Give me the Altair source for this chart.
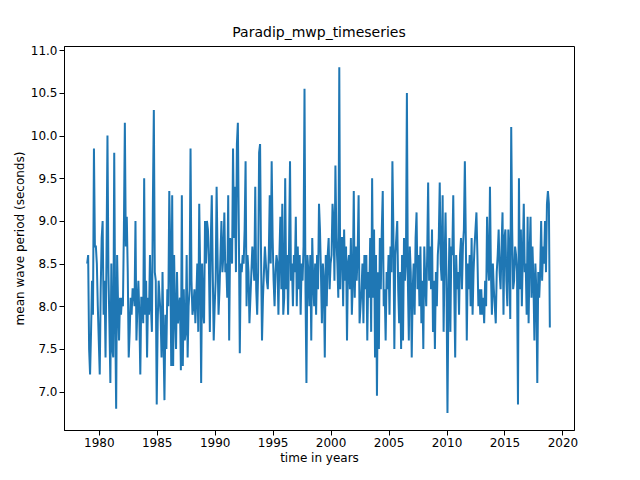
import altair as alt
import pandas as pd

y1979 = [8.5,8.6,7.5,7.2,7.7,8.3,7.9,9.85,8.7,8.7,8.5,8.0]
y1980 = [7.6,7.2,8.2,8.8,9.0,7.9,8.3,7.4,8.6,10.0,8.4,7.8]
y1981 = [7.1,8.5,7.5,7.4,9.8,7.9,6.8,8.6,8.0,7.6,8.1,7.9]
y1982 = [8.1,8.0,8.9,10.15,8.7,9.05,8.4,7.4,7.7,8.1,7.9,8.2]
y1983 = [8.2,8.0,9.0,7.6,8.0,8.3,7.9,7.2,8.1,8.1,7.8,9.5]
y1984 = [7.9,8.3,7.4,8.1,7.9,8.6,8.0,7.7,9.2,10.3,8.4,8.3]
y1985 = [6.85,7.8,8.3,8.1,7.9,7.4,8.4,7.6,6.9,7.9,7.5,8.2]
y1986 = [8.0,9.35,8.7,7.3,9.3,7.3,8.6,7.9,7.5,8.4,7.8,8.0]
y1987 = [8.1,7.25,9.3,7.3,8.2,7.6,7.7,8.6,7.4,8.0,8.2,9.85]
y1988 = [8.3,7.9,8.0,8.2,7.8,8.1,8.5,7.7,9.2,8.4,7.1,8.5]
y1989 = [8.0,7.8,9.0,8.5,9.0,8.9,8.5,7.7,8.8,9.3,8.4,7.6]
y1990 = [8.0,8.3,9.4,8.6,7.9,8.2,8.6,9.0,8.4,8.6,9.1,8.4]
y1991 = [8.5,8.1,9.3,7.6,8.8,8.7,8.5,9.85,8.8,9.4,8.4,9.9]
y1992 = [10.15,8.9,7.45,8.5,8.4,8.6,8.5,8.9,9.7,8.0,8.6,8.4]
y1993 = [7.8,8.1,8.4,8.7,8.5,8.3,9.4,8.2,7.9,8.4,9.8,9.9]
y1994 = [8.6,7.6,8.1,8.4,8.7,8.5,8.3,8.2,8.6,9.3,8.5,9.7]
y1995 = [8.8,8.3,8.0,8.4,8.6,8.5,7.9,8.6,9.05,8.2,9.2,7.9]
y1996 = [8.1,9.5,8.2,8.6,7.9,8.7,9.7,8.3,8.5,8.0,8.6,8.4]
y1997 = [9.05,8.0,8.7,8.2,8.6,7.9,8.5,8.3,8.7,10.55,8.2,7.1]
y1998 = [8.6,8.4,8.0,8.6,7.6,8.8,8.3,8.0,8.5,7.9,8.6,8.2]
y1999 = [9.2,8.9,8.4,7.8,8.5,8.3,7.4,8.6,8.0,8.6,8.8,8.2]
y2000 = [8.5,8.6,9.2,9.0,8.3,9.65,8.8,8.5,8.1,10.8,8.2,8.8]
y2001 = [8.8,8.0,8.9,8.3,8.7,7.6,8.5,8.6,8.2,8.8,7.9,8.3]
y2002 = [9.35,8.1,8.7,8.3,8.6,9.3,7.8,8.0,8.2,8.5,7.8,8.6]
y2003 = [8.2,8.6,7.6,8.4,8.1,8.8,7.7,9.5,8.1,8.9,7.4,8.6]
y2004 = [6.95,8.4,7.5,8.8,8.2,8.9,9.35,8.0,8.2,7.6,8.4,8.2]
y2005 = [8.6,7.9,8.7,8.4,9.7,8.9,7.5,8.6,8.8,9.0,8.2,7.8]
y2006 = [8.4,7.5,8.6,7.6,8.8,8.3,8.5,10.5,8.3,7.6,8.7,8.4]
y2007 = [7.4,8.2,8.5,7.9,8.8,9.1,8.2,8.6,8.0,8.7,7.8,8.3]
y2008 = [7.5,8.7,8.3,8.0,8.6,9.45,8.3,8.7,8.2,8.9,7.7,8.3]
y2009 = [7.5,8.4,8.0,8.6,8.8,9.45,8.5,8.3,9.3,7.7,8.5,9.1]
y2010 = [8.3,6.75,8.1,8.8,7.7,8.7,8.6,9.3,8.2,7.4,8.6,8.2]
y2011 = [8.4,7.9,8.6,8.8,8.2,8.7,8.9,9.7,8.8,7.6,8.5,8.2]
y2012 = [8.6,8.0,8.8,7.9,8.4,8.7,8.9,9.1,8.6,8.0,8.2,7.9]
y2013 = [8.2,7.9,8.1,7.8,8.3,8.0,9.05,8.5,8.3,9.4,8.4,7.9]
y2014 = [8.5,8.2,8.0,7.8,8.4,8.6,8.9,8.4,8.2,8.7,9.1,7.9]
y2015 = [8.8,8.9,8.3,8.0,8.9,8.6,7.85,10.1,8.9,8.2,8.3,8.7]
y2016 = [8.6,8.4,6.85,9.5,8.2,8.9,8.0,8.6,9.2,8.4,8.5,7.9]
y2017 = [9.05,7.8,8.6,9.05,8.1,8.7,8.3,7.6,8.5,8.2,7.1,8.4]
y2018 = [8.1,8.4,9.0,8.3,8.7,8.5,9.0,8.4,9.2,9.35,9.2,7.75]

years = [y1979,y1980,y1981,y1982,y1983,y1984,y1985,y1986,y1987,y1988,
         y1989,y1990,y1991,y1992,y1993,y1994,y1995,y1996,y1997,y1998,
         y1999,y2000,y2001,y2002,y2003,y2004,y2005,y2006,y2007,y2008,
         y2009,y2010,y2011,y2012,y2013,y2014,y2015,y2016,y2017,y2018]

rows = []
for i, vals in enumerate(years):
    for m, v in enumerate(vals):
        rows.append({"t": 1979 + i + m / 12.0, "v": v})
df = pd.DataFrame(rows)

chart = alt.Chart(df).mark_line(color="#1f77b4", strokeWidth=2).encode(
    x=alt.X("t:Q", title="time in years",
            scale=alt.Scale(domain=[1977.0, 2021.0], nice=False, zero=False),
            axis=alt.Axis(values=[1980,1985,1990,1995,2000,2005,2010,2015,2020],
                          format="d", grid=False, tickColor="black", domainColor="black",
                          labelFontSize=12, titleFontSize=12, labelFont="DejaVu Sans",
                          titleFont="DejaVu Sans", titleFontWeight="normal", labelColor="black", titleColor="black")),
    y=alt.Y("v:Q", title="mean wave period (seconds)",
            scale=alt.Scale(domain=[6.55, 11.05], nice=False, zero=False),
            axis=alt.Axis(values=[7.0,7.5,8.0,8.5,9.0,9.5,10.0,10.5,11.0],
                          format=".1f", grid=False, tickColor="black", domainColor="black",
                          labelFontSize=12, titleFontSize=12, labelFont="DejaVu Sans",
                          titleFont="DejaVu Sans", titleFontWeight="normal", labelColor="black", titleColor="black")),
).properties(
    width=510, height=384,
    padding={"top": 18, "left": 5, "right": 5, "bottom": 5},
    title=alt.TitleParams("Paradip_mwp_timeseries", fontSize=14, font="DejaVu Sans",
                          fontWeight="normal", color="black"),
).configure_view(stroke="black")

chart.save("out.html", embed_options={"renderer": "svg", "actions": False})
